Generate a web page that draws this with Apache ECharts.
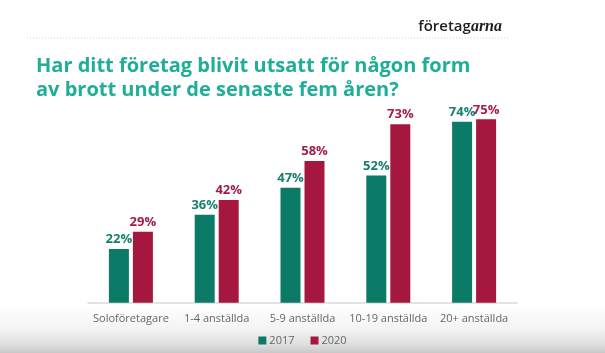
<!DOCTYPE html>
<html><head><meta charset="utf-8">
<script src="https://cdn.jsdelivr.net/npm/echarts@6/dist/echarts.min.js"></script>
<style>
html,body{margin:0;padding:0;}
body{width:605px;height:353px;background:linear-gradient(to bottom,#ffffff 0px,#ffffff 305px,#f4f4f4 328px,#dedede 345px,#c8c8c8 353px);}
#c{width:605px;height:353px;}
</style></head><body>
<div id="c"></div>
<script>
var categories = ['Soloföretagare','1-4 anställda','5-9 anställda','10-19 anställda','20+ anställda'];
var values2017 = [22,36,47,52,74];
var values2020 = [29,42,58,73,75];
var seriesNames = ['2017','2020'];

var chart = echarts.init(document.getElementById('c'), null, {renderer:'canvas'});
chart.setOption({
  backgroundColor:'transparent',
  animation:false,
  title:[{
    text:'Har ditt företag blivit utsatt för någon form\nav brott under de senaste fem åren?',
    left:31, top:49,
    textStyle:{fontFamily:'Open Sans',fontWeight:'bold',fontSize:20,lineHeight:24,color:'#1fae97'}
  },{
    text:'{a|företag}{b|arna}',
    right:98, top:14,
    textStyle:{rich:{
      a:{fontFamily:'Open Sans',fontSize:15,fontWeight:600,color:'#1e1e1e'},
      b:{fontFamily:'Liberation Serif',fontSize:16,fontStyle:'italic',fontWeight:'bold',color:'#1e1e1e'}
    }}
  }],
  graphic:[{
    type:'line', shape:{x1:27,y1:38,x2:508,y2:38},
    style:{stroke:'#c9d8d8',lineWidth:1.2,lineDash:[1,2]}
  }],
  legend:{
    bottom:2, left:'center', itemWidth:8, itemHeight:8, itemGap:16,
    icon:'rect',
    textStyle:{fontFamily:'Open Sans',fontSize:11,color:'#666',padding:[0,0,0,-2]},
    data:seriesNames
  },
  grid:{left:88,right:88,top:58.2,bottom:50.3},
  xAxis:{
    type:'category', data:categories,
    axisLine:{lineStyle:{color:'#dcdcdc',width:1.5}},
    axisTick:{show:false},
    axisLabel:{interval:0,fontFamily:'Open Sans',fontSize:11,color:'#666',margin:11}
  },
  yAxis:{type:'value',min:0,max:100,show:false,splitLine:{show:false}},
  series:[{
    name:seriesNames[0], type:'bar', data:values2017, barWidth:20, barGap:'20%',
    itemStyle:{color:'#0b7a67'},
    label:{show:true,position:'top',distance:3,formatter:'{c}%',fontFamily:'Open Sans',fontWeight:'bold',fontSize:13,color:'#137f6d'}
  },{
    name:seriesNames[1], type:'bar', data:values2020, barWidth:20,
    itemStyle:{color:'#a6173f'},
    label:{show:true,position:'top',distance:3,formatter:'{c}%',fontFamily:'Open Sans',fontWeight:'bold',fontSize:13,color:'#a51c45'}
  }]
});
</script>
</body></html>
